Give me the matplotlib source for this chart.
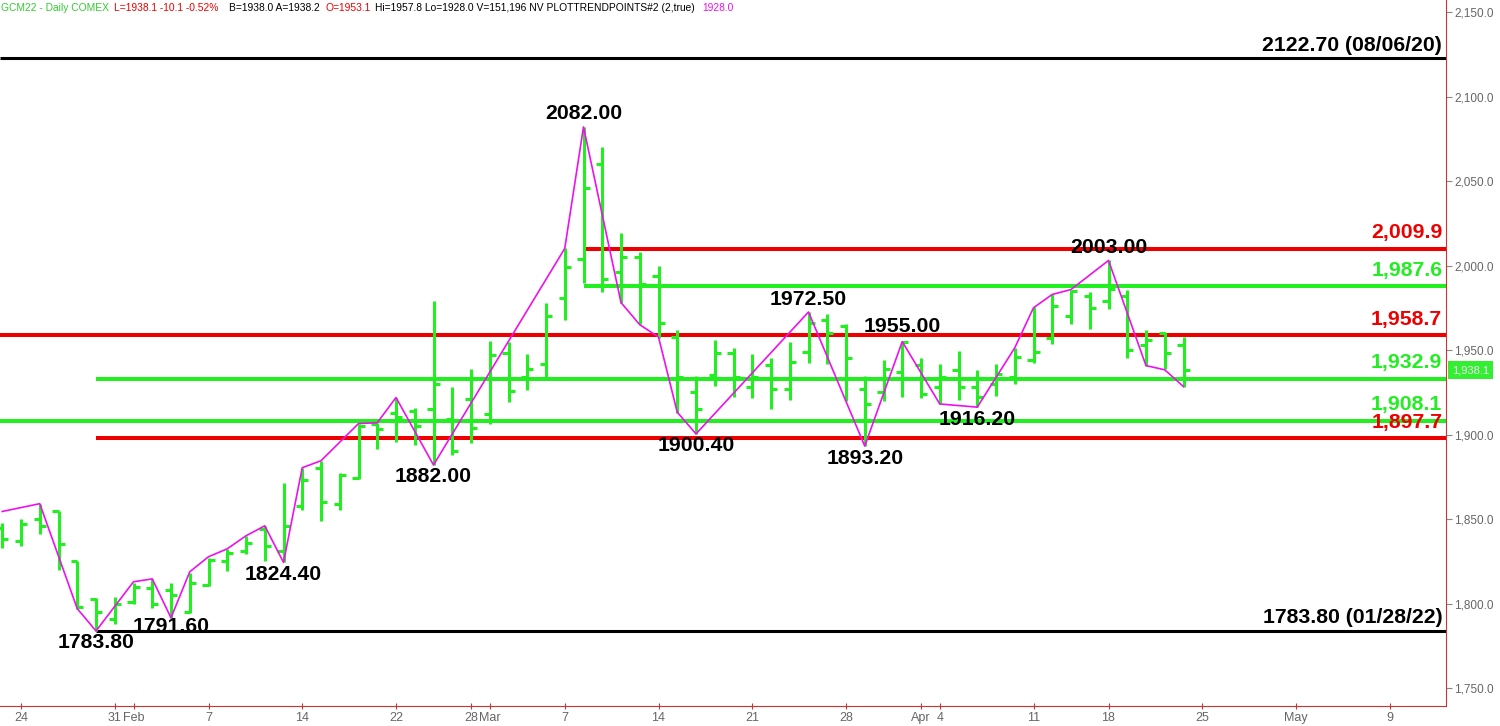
import numpy as np
import matplotlib
matplotlib.use('Agg')
import matplotlib.pyplot as plt

# daily bars, first one is Jan 21 (index -1), last one Apr 22 (index 62)
opens = [1845, 1837, 1850, 1855, 1825, 1803, 1791, 1801, 1809, 1808, 1795, 1811, 1825, 1831, 1844, 1831,
         1858, 1880, 1859, 1874, 1906, 1913, 1914, 1915, 1909, 1921, 1912, 1948, 1934, 1942, 1981, 2004,
         2060, 1996, 2005, 1994, 1958, 1925, 1935, 1948, 1928, 1941, 1927, 1949, 1968, 1964, 1927, 1925,
         1937, 1941, 1928, 1938, 1928, 1930, 1934, 1944, 1957, 1970, 1982, 1979, 1982, 1953, 1960, 1953.1]
highs = [1847.8, 1850.2, 1859.1, 1855, 1825.3, 1803.4, 1804, 1812.3, 1814.6, 1812.3, 1818.2, 1827.1, 1832.4,
         1840.1, 1846, 1871.5, 1880.4, 1884.5, 1877.5, 1906.5, 1907, 1921.9, 1916, 1979.3, 1928.4, 1938.5,
         1955.6, 1954.5, 1947.9, 1978.1, 2010.1, 2082, 2070, 2019, 2007.8, 1999.5, 1961.6, 1934.9, 1956.2,
         1951.5, 1947.9, 1945, 1954.5, 1972.5, 1971.1, 1965.7, 1934.9, 1944.4, 1955, 1945, 1942, 1949.7,
         1937.9, 1942, 1951.5, 1975.2, 1982.9, 1985.8, 1984.1, 2003, 1985.8, 1961.6, 1960.4, 1957.8]
lows = [1833, 1834.2, 1841.3, 1819.9, 1797, 1783.8, 1788, 1799.8, 1797.5, 1791.6, 1794.5, 1810.5, 1819.4,
        1829.4, 1825.3, 1824.4, 1855.5, 1849, 1855.5, 1873.9, 1891.6, 1895.8, 1894, 1882, 1888.1, 1895.2,
        1906.5, 1919.5, 1926.6, 1934.3, 1967.5, 1989.4, 1984.1, 1978.1, 1965.7, 1957.4, 1913, 1900.4, 1929,
        1922.5, 1921.9, 1915.4, 1920.7, 1942.6, 1942, 1920.1, 1893.2, 1920.1, 1922.5, 1921.9, 1918.3, 1920.7,
        1916.2, 1923, 1930.2, 1942.6, 1953.3, 1965.7, 1962.7, 1974, 1945, 1940.8, 1938.5, 1928.0]
closes = [1838, 1847, 1846, 1835, 1798, 1795, 1800, 1810, 1800, 1805, 1812, 1826, 1830, 1836, 1834, 1846,
          1873, 1860, 1876, 1905, 1903, 1910.6, 1905, 1930, 1890.5, 1904, 1947, 1926, 1939, 1970, 1999, 2046,
          1992, 2005, 1989, 1966, 1934, 1915, 1948, 1934, 1934, 1927, 1943, 1966, 1960, 1945, 1918, 1938.5,
          1954.5, 1924, 1934, 1928, 1922.5, 1936, 1946, 1949, 1976, 1985, 1975, 1986, 1950, 1956, 1948, 1938.1]
first_bar = -1

# PLOTTRENDPOINTS line
trend_idx = [-1, 1, 3, 4, 6, 7, 8, 9, 10, 11, 12, 13, 14, 15, 16, 18, 19, 20, 22, 29, 30, 32, 33, 34, 35,
             36, 42, 45, 47, 49, 51, 53, 54, 55, 56, 58, 60, 61, 62]
trend_px = [1854.5, 1859.1, 1797, 1783.8, 1812.9, 1814.6, 1791.6, 1818.8, 1827.7, 1832.4, 1840.1, 1846,
            1824.4, 1880.4, 1884.5, 1906.5, 1907, 1921.9, 1882, 2010.1, 2082, 1978.1, 1965, 1957.7, 1913.2,
            1900.4, 1972.5, 1893.2, 1955, 1918.1, 1916.2, 1951.3, 1975, 1982.9, 1985.8, 2003, 1940.8,
            1938.3, 1928.4]

# swing labels: bar index, price, above/below
pivot_idx = [30, 58, 42, 47, 51, 36, 45, 22, 14, 8, 4]
pivot_px = [2082.00, 2003.00, 1972.50, 1955.00, 1916.20, 1900.40, 1893.20, 1882.00, 1824.40, 1791.60, 1783.80]
pivot_up = [True, True, True, True, False, False, False, False, False, False, False]

# horizontal levels
level_px = [2122.70, 1783.80, 2009.9, 1987.6, 1958.7, 1932.9, 1908.1, 1897.7]
level_kind = ['hist', 'hist', 'red', 'green', 'red', 'green', 'green', 'red']
level_start = [None, 4, 30, 30, None, 4, None, 4]
level_text = ['2122.70 (08/06/20)', '1783.80 (01/28/22)', '2,009.9', '1,987.6', '1,958.7', '1,932.9',
              '1,908.1', '1,897.7']

tick_idx = [0, 5, 6, 10, 15, 20, 24, 25, 29, 34, 39, 44, 48, 49, 54, 58, 63, 68, 73]
tick_lab = ['24', '31', 'Feb', '7', '14', '22', '28', 'Mar', '7', '14', '21', '28', 'Apr', '4', '11',
            '18', '25', 'May', '9']

last_px = 1938.1

GREEN = '#22ee22'
RED = '#ee0000'
MAGENTA = '#ee11ee'
AXIS = '#cc3333'

plt.rcParams['font.family'] = ['Liberation Sans', 'DejaVu Sans']

fig = plt.figure(figsize=(15, 7.26), dpi=100)
ax = fig.add_axes([0, 20 / 726, 1446 / 1500, 706 / 726])
xmin, xmax = -1.12, 76.0
ax.set_xlim(xmin, xmax)
ax.set_ylim(1739.4, 2157.1)

x = np.arange(first_bar, first_bar + len(opens))
w = 0.33
ax.vlines(x, lows, highs, color=GREEN, lw=2.2, zorder=3)
ax.hlines(opens, x - w, x, color=GREEN, lw=2.2, zorder=3)
ax.hlines(closes, x, x + w, color=GREEN, lw=2.2, zorder=3)

for px, kind, st, txt in zip(level_px, level_kind, level_start, level_text):
    x0 = xmin if st is None else st
    if kind == 'hist':
        col, lw, tcol, dy = 'black', 2.2, 'black', 13
    else:
        col = GREEN if kind == 'green' else RED
        lw, tcol, dy = 2.9, col, 16
    ax.hlines(px, x0, xmax, color=col, lw=lw, zorder=2)
    ax.annotate(txt, (75.8, px), xytext=(0, dy), textcoords='offset pixels', ha='right', va='center',
                fontsize=15.3, fontweight='bold', color=tcol, zorder=6)

ax.plot(trend_idx, trend_px, color=MAGENTA, lw=1.2, zorder=4)

for i, px, up in zip(pivot_idx, pivot_px, pivot_up):
    dy = 13 if up else -12
    if px == 1955.00:
        dy = 15
    if px == 1791.60:
        dy = -9
    ax.annotate(f'{px:.2f}', (i, px), xytext=(0, dy), textcoords='offset pixels', ha='center', va='center',
                fontsize=15.3, fontweight='bold', color='black', zorder=6)

# axes look
for s in ['left', 'top']:
    ax.spines[s].set_visible(False)
ax.spines['right'].set_color(AXIS)
ax.spines['bottom'].set_color(AXIS)
ax.yaxis.tick_right()
ax.set_yticks(np.arange(1750, 2151, 50))
ax.set_yticklabels([f'{v:,.1f}' for v in np.arange(1750, 2151, 50)])
ax.tick_params(axis='y', colors='#666666', labelsize=8.5, length=4, width=0.8, pad=2)
ax.tick_params(axis='y', color='#888888')
ax.set_xticks(tick_idx)
ax.set_xticklabels(tick_lab)
ax.tick_params(axis='x', colors='#666666', labelsize=9, length=4, width=0.8, pad=2, direction='inout')
ax.tick_params(axis='x', color=AXIS)

ax.annotate(f'{last_px:,.1f}', (1.0, last_px), xycoords=('axes fraction', 'data'), xytext=(6, 0),
            textcoords='offset pixels', ha='left', va='center', fontsize=8, color='#eaffea',
            bbox=dict(boxstyle='square,pad=0.35', fc='#33ee33', ec='none'), annotation_clip=False)

# header line
hdr = [(1, 'GCM22 - Daily COMEX', '#33cc33'), (114, 'L=1938.1 -10.1 -0.52%', RED),
       (229, 'B=1938.0 A=1938.2', 'black'), (326, 'O=1953.1', RED),
       (375, 'Hi=1957.8 Lo=1928.0 V=151,196 NV PLOTTRENDPOINTS#2 (2,true)', 'black'),
       (702, '1928.0', MAGENTA)]
for px_x, txt, col in hdr:
    fig.text(px_x / 1500, 1 - 8 / 726, txt, ha='left', va='center', fontsize=7.4, color=col)

fig.savefig('out.png', dpi=100, facecolor='white')
